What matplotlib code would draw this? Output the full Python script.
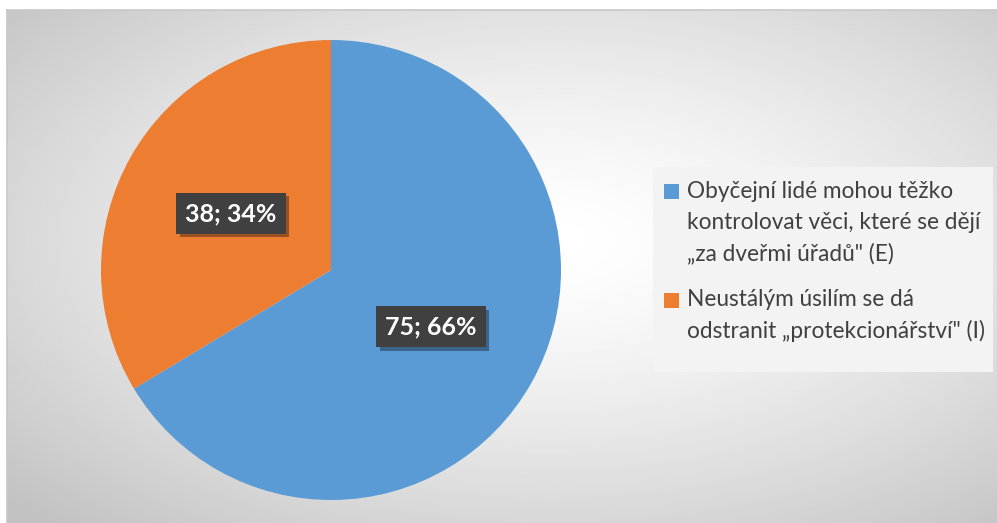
import numpy as np
import matplotlib.pyplot as plt
import matplotlib.patheffects as pe
from matplotlib.patches import Patch, Rectangle

# --- data ---
labels = [
    "Obyčejní lidé mohou těžko\nkontrolovat věci, které se dějí\n„za dveřmi úřadů\" (E)",
    "Neustálým úsilím se dá\nodstranit „protekcionářství\" (I)",
]
values = [75, 38]
colors = ["#5B9BD5", "#ED7D31"]

W, H = 997, 523
fig = plt.figure(figsize=(W / 100, H / 100), dpi=100)
fig.patch.set_facecolor("white")

# background with radial gradient (chart area)
bg = fig.add_axes([7 / W, 0, 990 / W, 513 / H])
yy, xx = np.mgrid[0:1:300j, 0:1:560j]
r = np.sqrt(((xx - 0.55) / 0.75) ** 2 + ((yy - 0.55) / 0.75) ** 2)
r = np.clip(r, 0, 1)
shade = 1.0 - 0.24 * r ** 1.4
bg.imshow(shade, cmap="gray", vmin=0, vmax=1, aspect="auto",
          extent=[0, 1, 0, 1], origin="lower", interpolation="bilinear")
bg.set_xticks([])
bg.set_yticks([])
for s in ["right", "bottom"]:
    bg.spines[s].set_visible(False)
for s in ["top", "left"]:
    bg.spines[s].set_color("#c8c8c8")
    bg.spines[s].set_linewidth(1.2)

# pie
ax = fig.add_axes([101 / W, 23 / H, 460 / W, 460 / H])
total = sum(values)
wedges, texts, autotexts = ax.pie(
    values, colors=colors, startangle=90, counterclock=False,
    autopct=lambda p: f"{round(p * total / 100)}; {p:.0f}%",
    pctdistance=0.5, radius=1.0,
    wedgeprops=dict(linewidth=0),
)
ax.set_xlim(-1, 1)
ax.set_ylim(-1, 1)
ax.set_aspect("auto")

for t in autotexts:
    t.set_color("white")
    t.set_fontsize(18)
    t.set_fontweight("bold")
    t.set_fontfamily("Lato")
    t.set_bbox(dict(boxstyle="square,pad=0.36", facecolor="#404040", edgecolor="none"))
    t.get_bbox_patch().set_path_effects([
        pe.SimplePatchShadow(offset=(2.5, -2.5), shadow_rgbFace="#000000", alpha=0.35),
        pe.Normal(),
    ])

# legend box (Excel leaves extra room at the bottom)
fig.add_artist(Rectangle((653 / W, 1 - 372 / H), 340 / W, 205 / H,
                         transform=fig.transFigure, facecolor="#f3f3f3",
                         edgecolor="none", zorder=1))

fs = 16.3
ls = 1.55
pitch_pt = 23  # line pitch of the legend text, in points
handles = [Patch(facecolor=c, edgecolor="none") for c in colors]
leg = fig.legend(
    handles, labels, loc="upper left",
    bbox_to_anchor=(653 / W, 1 - 170 / H),
    frameon=False,
    prop={"family": "Lato", "size": fs},
    handlelength=0.65, handleheight=0.65, handletextpad=0.35,
    labelspacing=1.1, borderpad=0.5, borderaxespad=0,
)
leg.set_zorder(2)
for t in leg.get_texts():
    t.set_color("#404040")
    t.set_linespacing(ls)
# put each marker next to the first line of its label
for h, lab in zip(leg.legend_handles, labels):
    n = lab.count("\n")
    h.set_y(h.get_y() + n * pitch_pt / 2)

fig.savefig("out.png", dpi=100)
